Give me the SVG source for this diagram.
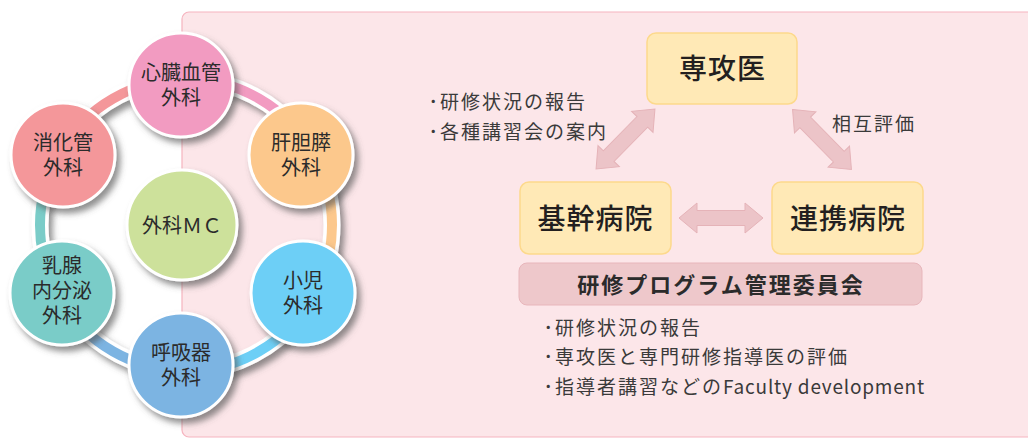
<svg xmlns="http://www.w3.org/2000/svg" width="1028" height="439" viewBox="0 0 1028 439">
<style>
.ct{font-family:"Noto Sans CJK JP","Noto Sans",sans-serif;font-size:20px;fill:#2b2b2b;text-anchor:middle}
.big{font-family:"Noto Sans CJK JP","Noto Sans",sans-serif;font-size:28px;font-weight:500;fill:#231f20;text-anchor:middle;letter-spacing:1px}
.bul{font-family:"Noto Sans CJK JP","Noto Sans",sans-serif;font-size:19px;fill:#3a3a3a;letter-spacing:2px}
.box{fill:#ffe9b6;stroke:#fdd98c;stroke-width:1.5}
.arr{fill:#ecc4c8;stroke:#e5b3b8;stroke-width:1}
.circ{stroke:#fff;stroke-width:3;filter:url(#sh)}
.seg{fill:none;stroke-width:10}
</style>
<defs>
<filter id="sh" x="-30%" y="-30%" width="160%" height="160%">
<feDropShadow dx="4" dy="5" stdDeviation="3" flood-color="#555" flood-opacity="0.65"/>
</filter>
<path id="dbl" d="M-42,0 L-24,-15 L-24,-7.5 L24,-7.5 L24,-15 L42,0 L24,15 L24,7.5 L-24,7.5 L-24,15 Z"/>
</defs>
<rect x="182" y="12" width="870" height="425" rx="7" fill="#fce6e9" stroke="#f6b4bf" stroke-width="1.2"/>
<g id="connectors">
<circle cx="186" cy="225" r="146" fill="none" stroke="#fff" stroke-width="17" filter="url(#sh)"/>
<path class="seg" stroke="#f29bc1" d="M186,79 A146,146 0 0 1 312.44,152"/>
<path class="seg" stroke="#fcc88c" d="M312.44,152 A146,146 0 0 1 312.44,298"/>
<path class="seg" stroke="#6dcff6" d="M312.44,298 A146,146 0 0 1 186,371"/>
<path class="seg" stroke="#7cb4e2" d="M186,371 A146,146 0 0 1 59.56,298"/>
<path class="seg" stroke="#7accc8" d="M59.56,298 A146,146 0 0 1 59.56,152"/>
<path class="seg" stroke="#f4979a" d="M59.56,152 A146,146 0 0 1 186,79"/>
<use href="#dbl" class="arr" transform="translate(625.5,139) rotate(-45.5)"/>
<use href="#dbl" class="arr" transform="translate(822,139.5) rotate(45.5)"/>
<use href="#dbl" class="arr" transform="translate(721,218)"/>
</g>
<g id="n-shinzou"><circle class="circ" cx="181" cy="85" r="52" fill="#f29bc1"/><text class="ct" x="181" y="80">心臓血管<tspan x="181" dy="25">外科</tspan></text></g>
<g id="n-kantansui"><circle class="circ" cx="301" cy="155" r="52" fill="#fcc88c"/><text class="ct" x="301" y="150">肝胆膵<tspan x="301" dy="25">外科</tspan></text></g>
<g id="n-shouni"><circle class="circ" cx="303" cy="293" r="52" fill="#6dcff6"/><text class="ct" x="303" y="288">小児<tspan x="303" dy="25">外科</tspan></text></g>
<g id="n-kokyuuki"><circle class="circ" cx="181" cy="365" r="52" fill="#7cb4e2"/><text class="ct" x="181" y="360">呼吸器<tspan x="181" dy="25">外科</tspan></text></g>
<g id="n-nyusen"><circle class="circ" cx="62" cy="293" r="52" fill="#7accc8"/><text class="ct" x="62" y="273">乳腺<tspan x="62" dy="25">内分泌</tspan><tspan x="62" dy="25">外科</tspan></text></g>
<g id="n-shoukakan"><circle class="circ" cx="63" cy="155" r="52" fill="#f4979a"/><text class="ct" x="63" y="150">消化管<tspan x="63" dy="25">外科</tspan></text></g>
<g id="n-mc"><circle class="circ" cx="182" cy="225" r="55" fill="#cde19b"/><text class="ct" x="182" y="233">外科ＭＣ</text></g>
<g id="n-senkoui"><rect class="box" x="647" y="33" width="150" height="71" rx="9"/><text class="big" x="722.5" y="79">専攻医</text></g>
<g id="n-kikan"><rect class="box" x="520" y="182" width="151" height="72" rx="9"/><text class="big" x="595.5" y="229">基幹病院</text></g>
<g id="n-renkei"><rect class="box" x="772" y="182" width="151" height="72" rx="9"/><text class="big" x="848" y="229">連携病院</text></g>
<g id="n-iinkai"><rect x="519" y="263" width="403" height="42" rx="8" fill="#eec8cb" stroke="#e8b6bb" stroke-width="1"/><text x="721" y="293" style="font-family:'Noto Sans CJK JP','Noto Sans',sans-serif;font-size:22px;font-weight:700;fill:#2b2b2b;text-anchor:middle;letter-spacing:2px">研修プログラム管理委員会</text></g>
<g id="labels">
<text class="bul" x="428.5" y="109">･研修状況の報告</text>
<text class="bul" x="428.5" y="139">･各種講習会の案内</text>
<text class="bul" x="832" y="131">相互評価</text>
<text class="bul" x="543.5" y="335">･研修状況の報告</text>
<text class="bul" x="543.5" y="364">･専攻医と専門研修指導医の評価</text>
<text class="bul" x="543.5" y="394">･指導者講習などの<tspan style="letter-spacing:0.8px">Faculty development</tspan></text>
</g>
</svg>
